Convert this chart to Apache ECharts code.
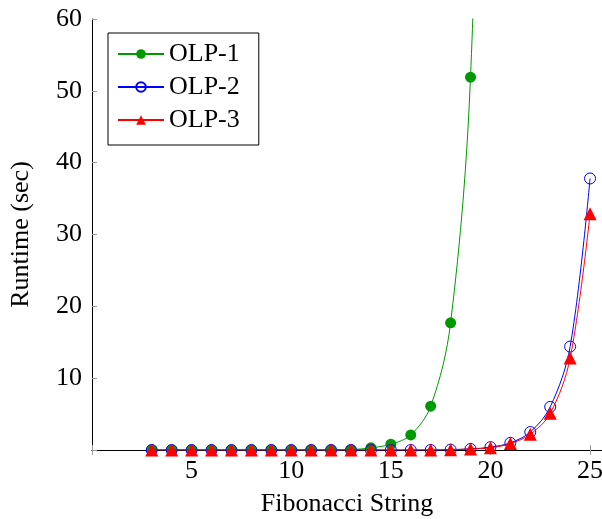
<!DOCTYPE html>
<html>
<head>
<meta charset="utf-8">
<script src="https://cdn.jsdelivr.net/npm/echarts@6/dist/echarts.min.js"></script>
<style>html,body{margin:0;padding:0;background:#fff}#c{width:602px;height:519px}</style>
</head>
<body>
<div id="c"></div>
<script>
const xValues = [3,4,5,6,7,8,9,10,11,12,13,14,15,16,17,18,19,20,21,22,23,24,25];
const olp1 = [0,0,0,0,0,0,0,0,0,0,0.05,0.3,0.8,2.1,6.1,17.7,51.9,150];
const olp2 = [0,0,0,0,0,0,0,0,0,0,0,0,0,0,0,0.05,0.15,0.4,1.0,2.5,6.0,14.4,37.8];
const olp3 = [0,0,0,0,0,0,0,0,0,0,0,0,0,0,0,0.05,0.15,0.3,0.9,2.2,5.1,12.8,32.9];
const xTicks = [5,10,15,20,25];
const yTicks = [10,20,30,40,50,60];
const seriesNames = ['OLP-1','OLP-2','OLP-3'];

const FONT = '"Liberation Serif", serif';
const pair = (vals) => vals.map((v,i)=>[xValues[i], v]);

const chart = echarts.init(document.getElementById('c'), null, {renderer:'canvas'});
const tickStyle = {show:true, inside:true, length:5, lineStyle:{color:'#999', width:1}};
chart.setOption({
  animation:false,
  backgroundColor:'#fff',
  grid:{left:92, right:0, top:19, bottom:69, containLabel:false, outerBoundsMode:'none'},
  xAxis:[{
    type:'value', min:0, max:25.6, interval:5,
    axisLine:{show:true, onZero:false, lineStyle:{color:'#000', width:1}},
    axisTick:tickStyle,
    splitLine:{show:false},
    axisLabel:{fontFamily:FONT, fontSize:26, color:'#000', margin:8, showMaxLabel:false,
      formatter:(v)=> xTicks.includes(v) ? String(v) : ''},
    name:'Fibonacci String', nameLocation:'middle', nameGap:41,
    nameTextStyle:{fontFamily:FONT, fontSize:26, color:'#000'}
  },{
    type:'value', min:0, max:25.6, interval:5, position:'top',
    axisLine:{show:true, lineStyle:{color:'#000', width:1}},
    axisTick:tickStyle, axisLabel:{show:false}, splitLine:{show:false}
  }],
  yAxis:[{
    type:'value', min:0, max:60, interval:10,
    axisLine:{show:true, onZero:false, lineStyle:{color:'#000', width:1}},
    axisTick:tickStyle,
    splitLine:{show:false},
    axisLabel:{fontFamily:FONT, fontSize:26, color:'#000', margin:10,
      formatter:(v)=> yTicks.includes(v) ? String(v) : ''},
    name:'Runtime (sec)', nameLocation:'middle', nameGap:58,
    nameTextStyle:{fontFamily:FONT, fontSize:26, color:'#000'}
  }],
  legend:{
    orient:'vertical', left:108, top:33,
    data:seriesNames,
    backgroundColor:'#fff',
    borderColor:'#000', borderWidth:1, borderRadius:0,
    padding:[8,19,12,9],
    itemWidth:46, itemHeight:12, itemGap:7,
    textStyle:{fontFamily:FONT, fontSize:26, color:'#000', lineHeight:24}
  },
  series:[
    {name:seriesNames[0], type:'line', data:pair(olp1), smooth:0.35, clip:true,
      symbol:'circle', symbolSize:11, showSymbol:true,
      lineStyle:{color:'#009a00', width:1}, itemStyle:{color:'#009a00'}, z:2},
    {name:seriesNames[1], type:'line', data:pair(olp2), smooth:0.35, clip:true,
      symbol:'circle', symbolSize:11,
      lineStyle:{color:'#0000ff', width:1},
      itemStyle:{color:'rgba(255,255,255,0)', borderColor:'#0000ff', borderWidth:1}, z:3},
    {name:seriesNames[2], type:'line', data:pair(olp3), smooth:0.35, clip:true,
      symbol:'triangle', symbolSize:13,
      lineStyle:{color:'#ff0000', width:1}, itemStyle:{color:'#ff0000'}, z:4}
  ]
});
</script>
</body>
</html>
